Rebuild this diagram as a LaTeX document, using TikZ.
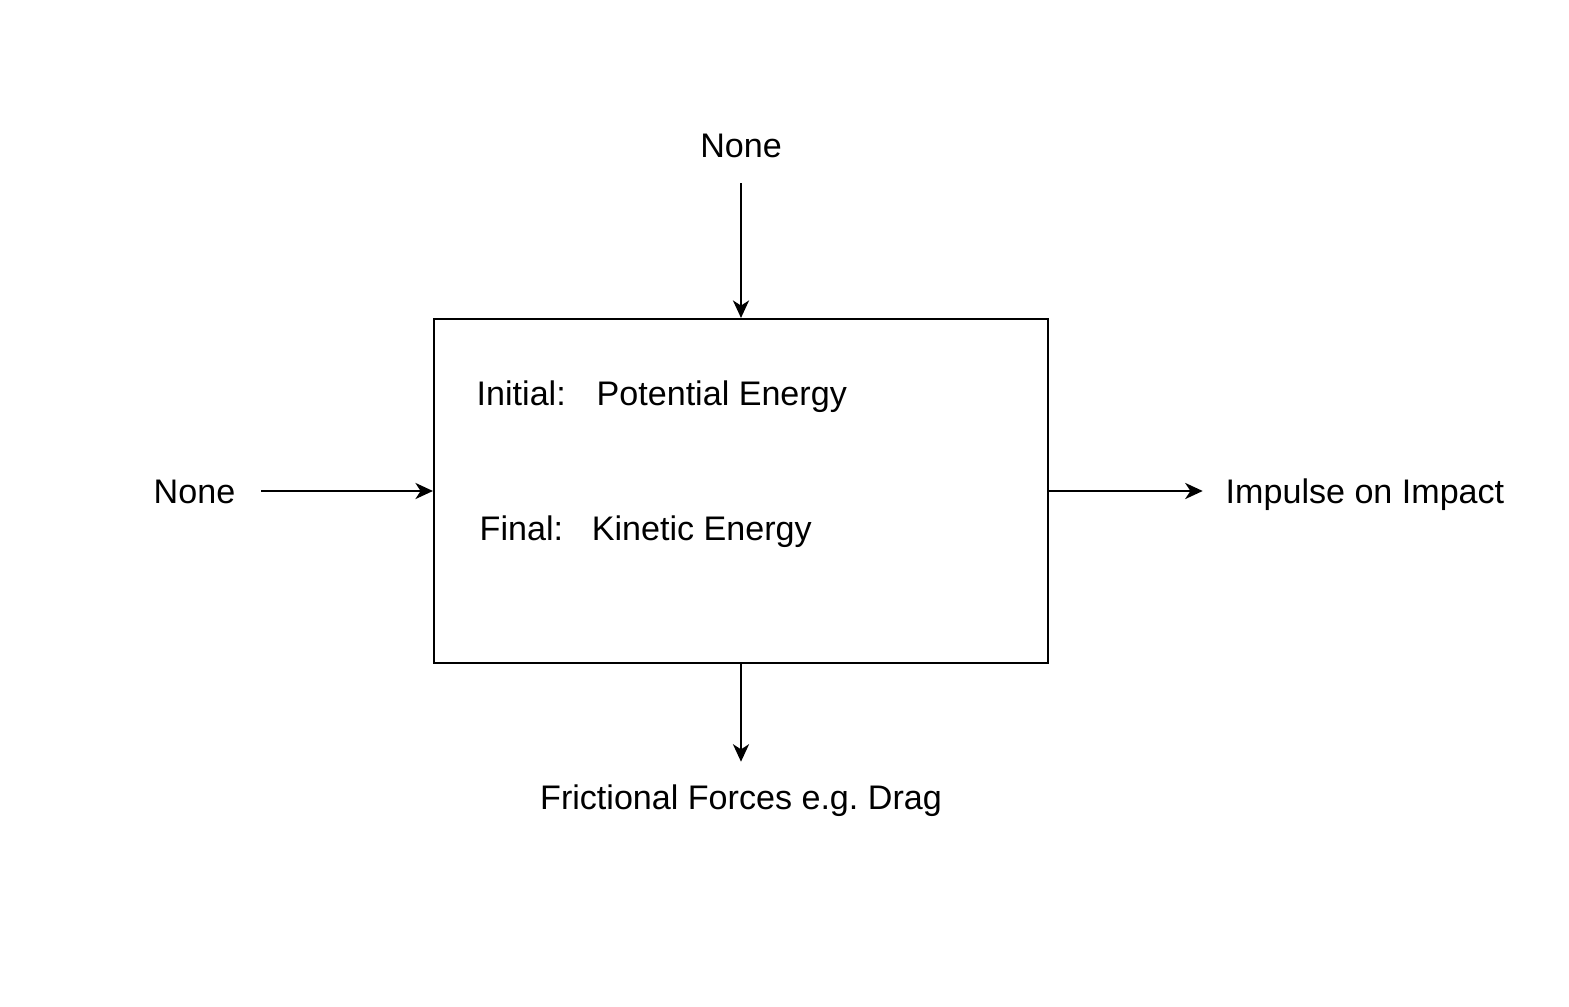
\documentclass[tikz,border=0pt]{standalone}
\usepackage{fontspec}
\setmainfont{Liberation Sans}
\usepackage{tikz}
\usetikzlibrary{arrows.meta,positioning,calc}

\begin{document}
\begin{tikzpicture}[
    font=\fontsize{9.7}{11.6}\selectfont,
    lbl/.style={inner sep=0pt, outer sep=0.26cm, text height=7pt, text depth=0pt},
    txt/.style={inner sep=0pt, anchor=west, text height=7pt, text depth=0pt},
    sysbox/.style={draw, line width=0.6pt, minimum width=6.14cm, minimum height=3.44cm},
    flow/.style={line width=0.6pt, -{Stealth[length=5pt, width=4.6pt, inset=1.5pt]}}]
    \useasboundingbox (0,0) rectangle (15.69,-10.07);

    % system boundary
    \node[sysbox] (system) at (7.41,-4.91) {};
    \node[txt] (initial) at (4.76,-3.93) {Initial:\hspace{8.8pt}Potential Energy};
    \node[txt] (final) at (4.79,-5.28) {Final:\hspace{8.2pt}Kinetic Energy};

    % inputs and outputs
    \node[lbl] (topin) at (7.41,-1.45) {None};
    \node[lbl] (leftin) at (1.945,-4.91) {None};
    \node[lbl] (rightout) at (13.65,-4.91) {Impulse on Impact};
    \node[lbl] (bottomout) at (7.41,-7.97) {Frictional Forces e.g.\ Drag};

    \draw[flow] (topin) -- (system);
    \draw[flow] (leftin) -- (system);
    \draw[flow, shorten >=-0.03cm] (system) -- (rightout);
    \draw[flow, shorten >=-0.03cm] (system) -- (bottomout);
\end{tikzpicture}
\end{document}
